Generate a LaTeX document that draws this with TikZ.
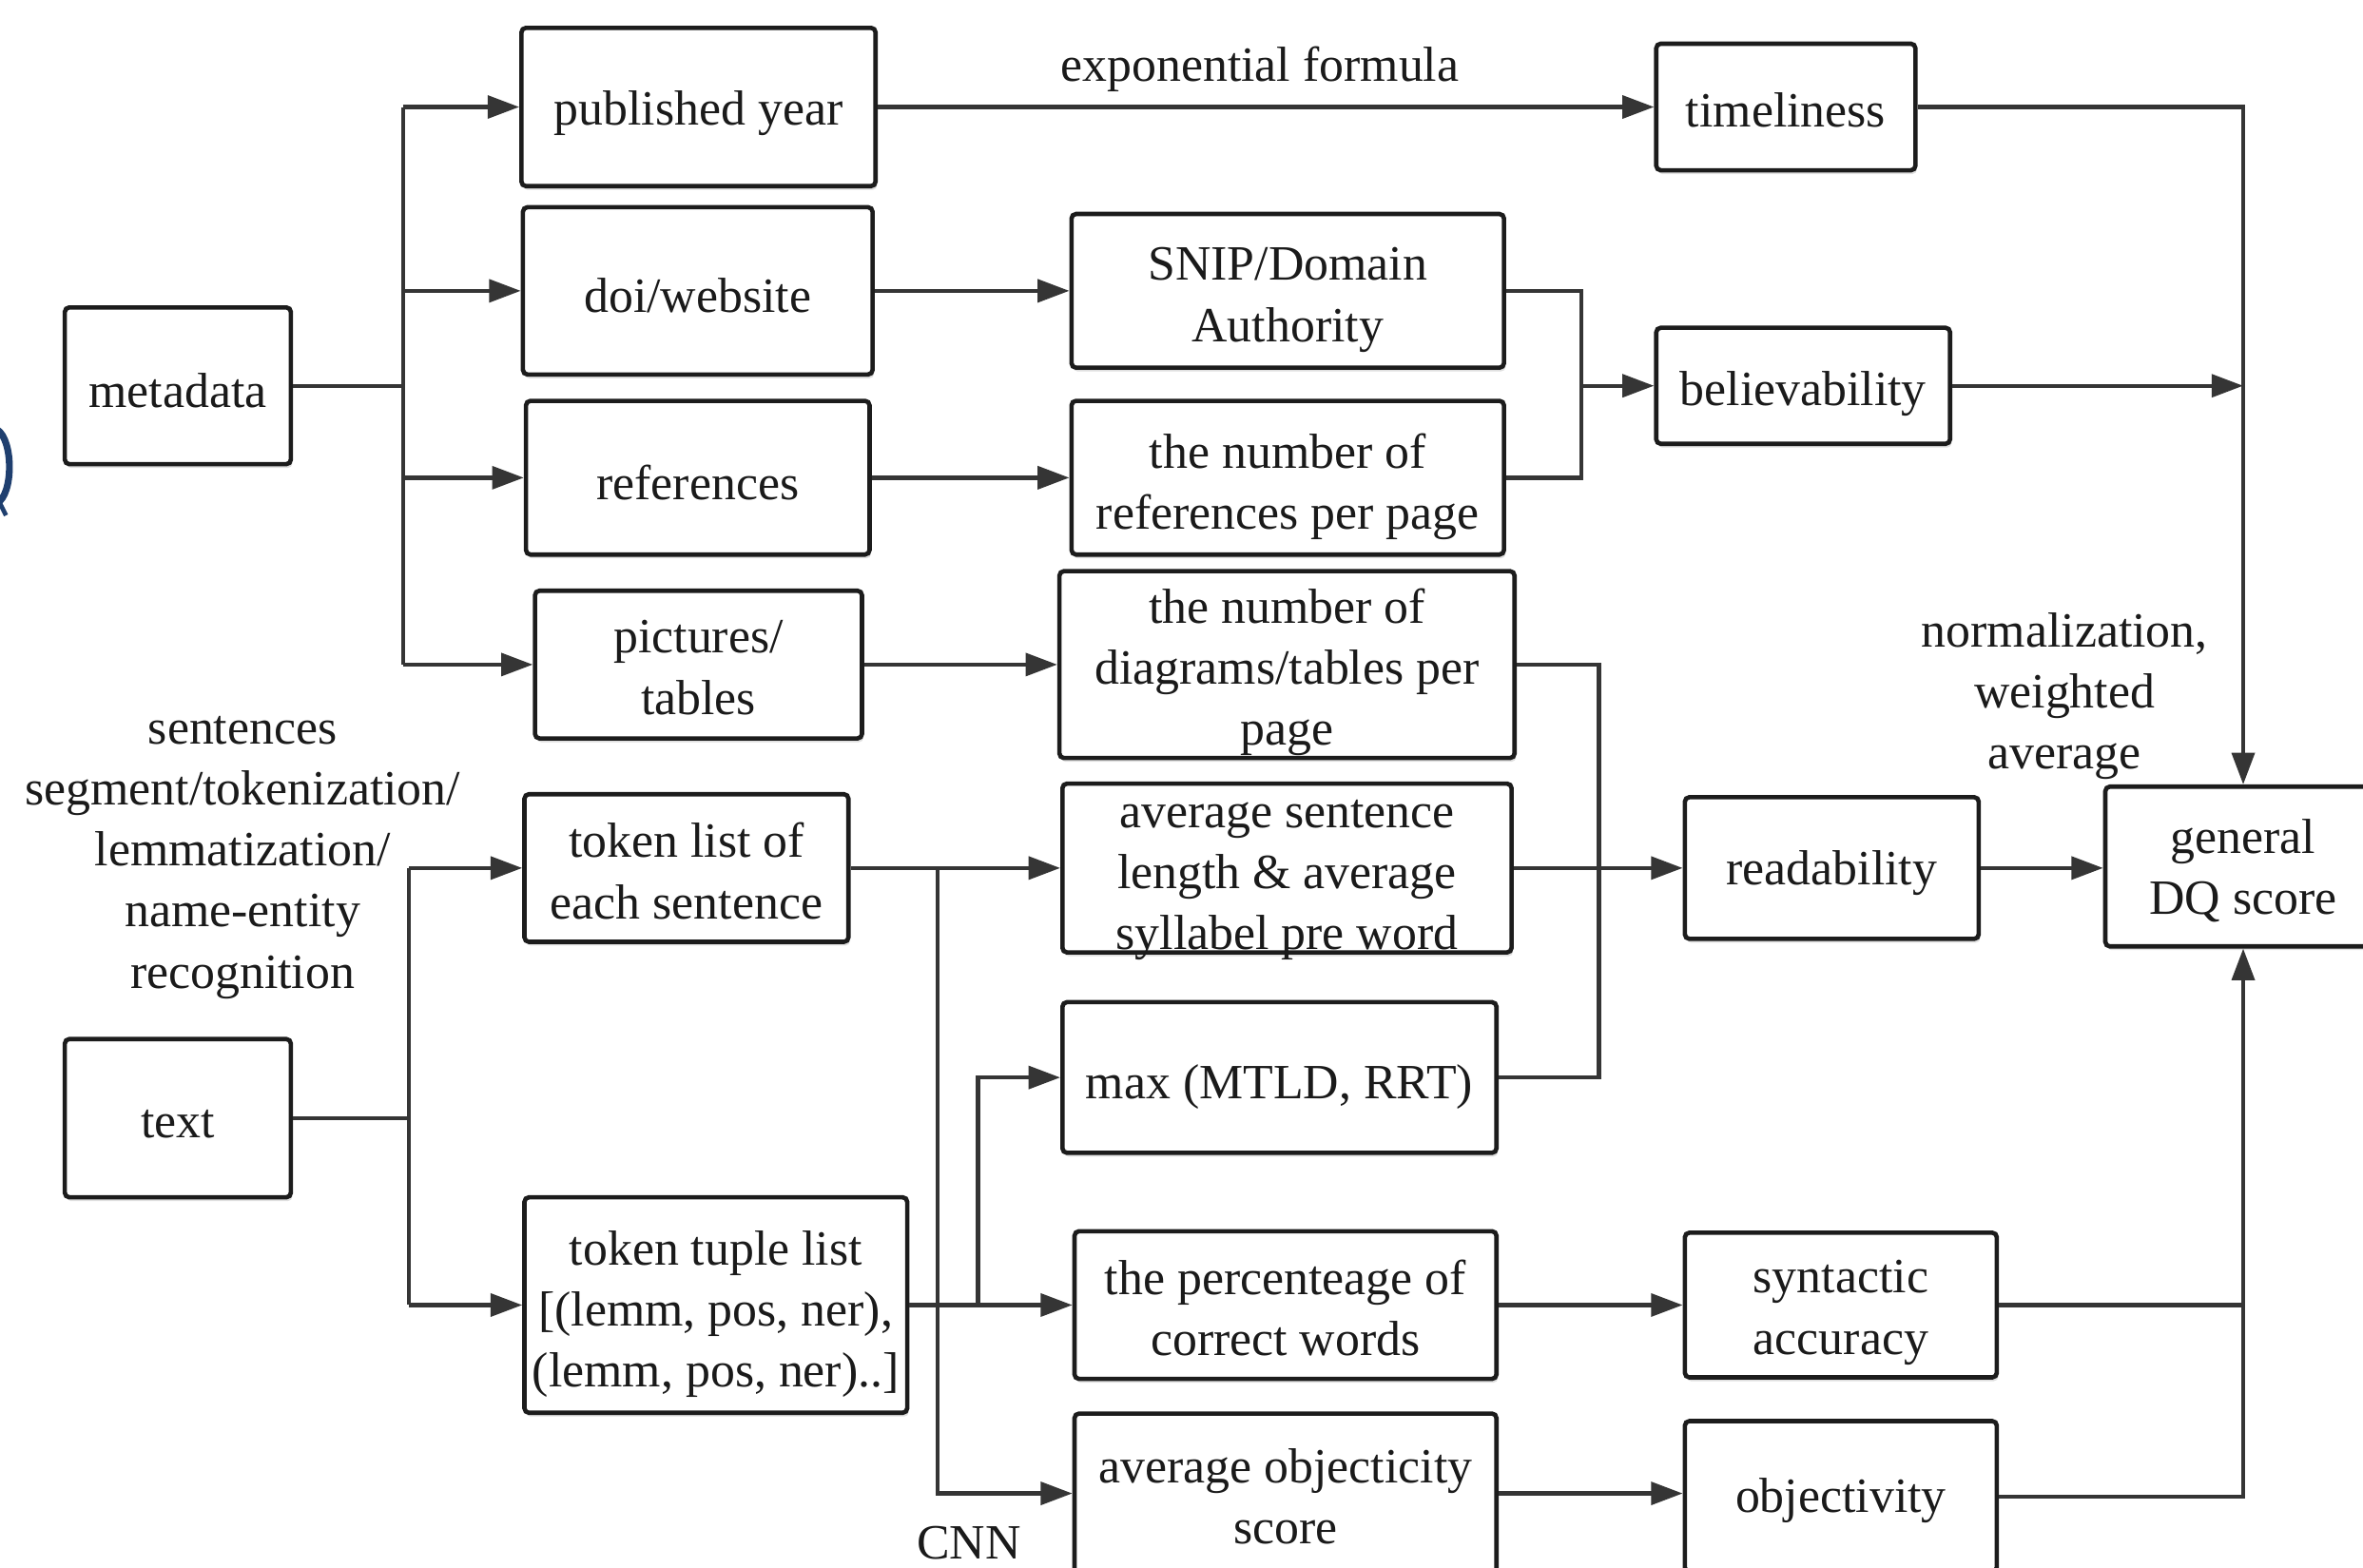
\documentclass[tikz,border=0pt]{standalone}
\usepackage{fontspec}
\setmainfont{Liberation Serif}
\usetikzlibrary{arrows.meta,shadows}
\newcommand{\dqfont}{\fontsize{32.7}{40.5}\selectfont}
\definecolor{linec}{HTML}{353535}
\definecolor{boxc}{HTML}{1C1C1C}
\definecolor{txtc}{HTML}{1A1A1A}
\definecolor{blueart}{HTML}{1F3F6F}
% \dqbox[text shift]{name}{x}{y}{width}{height}{text}
\newcommand{\dqbox}[7][4]{%
  \node[box, minimum width=#5pt, minimum height=#6pt] (#2) at (#3,#4) {};
  \node[lbl] (#2-t) at ([yshift=-#1pt]#2.center) {#7};}
\begin{document}
\begin{tikzpicture}[x=1pt,y=-1pt,
  box/.style={draw=boxc, line width=2.9pt, rounded corners=3pt, inner sep=0pt,
    fill=white,
    drop shadow={shadow xshift=1pt, shadow yshift=-2.5pt, opacity=0.25, fill=gray}},
  lbl/.style={font=\dqfont, text=txtc, align=center, inner sep=0pt},
  conn/.style={draw=linec, line width=2.7pt},
  arr/.style={conn, -{Triangle[length=21pt,width=15pt]}}]
\useasboundingbox (0,0) rectangle (1568,1040);
\clip (0,0) rectangle (1568,1040);
\fill[white] (0,0) rectangle (1568,1040);

% left-edge fragment
\draw[blueart, line width=4.5pt] (-2,285) .. controls (9,292) and (9,328) .. (-2,334);
\draw[blueart, line width=3pt] (-1,332) -- (4,342);

% nodes
\dqbox[3]{meta}{118}{256}{150}{104}{metadata}
\dqbox[4]{text}{118}{742}{150}{105}{text}
\dqbox[4]{pub}{463.5}{71}{235}{105}{published year}
\dqbox[3]{doi}{463}{193}{232}{111}{doi/website}
\dqbox[3]{refs}{463}{317}{228}{102}{references}
\dqbox[2]{pics}{463.5}{441}{217}{98}{pictures/\\tables}
\dqbox[2]{tok}{455.5}{576}{215}{98}{token list of\\each sentence}
\dqbox[6]{tup}{475}{866}{254}{143}{token tuple list\\{}[(lemm, pos, ner),\\(lemm, pos, ner)..]}

\dqbox[6]{snip}{854.5}{193}{287}{102}{SNIP/Domain\\Authority}
\dqbox[6]{nref}{854.5}{317}{287}{102}{the number of\\references per page}
\dqbox[5]{ndiag}{854}{441}{302}{124}{the number of\\diagrams/tables per\\page}
\dqbox[8]{avgs}{854}{576}{298}{112}{average sentence\\length \& average\\syllabel pre word}
\dqbox[6]{maxm}{849}{715}{288}{100}{max (MTLD, RRT)}
\dqbox[2]{perc}{853}{866}{280}{98}{the percenteage of\\correct words}
\dqbox[2]{avgo}{853}{991}{280}{106}{average objecticity\\score}

\dqbox[2]{time}{1185}{71}{172}{84}{timeliness}
\dqbox[5]{bel}{1196.5}{256}{195}{77}{believability}
\dqbox[3]{read}{1215.5}{576}{195}{94}{readability}
\dqbox[5]{synt}{1221.5}{866}{207}{96}{syntactic\\accuracy}
\dqbox[3]{obj}{1221.5}{993}{207}{100}{objectivity}
\dqbox[3]{dq}{1488.5}{575}{183}{106}{general\\DQ score}

% labels
\node[lbl] (lexp) at (836,46) {exponential formula};
\node[lbl] (lnlp) at (161,569) {sentences\\segment/tokenization/\\lemmatization/\\name-entity\\recognition};
\node[lbl] (lnorm) at (1370,462) {normalization,\\weighted\\average};
\node[lbl] (lcnn) at (643,1024) {CNN};

% metadata fan-out
\draw[conn] (meta.east) -- ++(73,0) coordinate (mj);
\draw[conn] (mj |- pub.west) -- (mj |- pics.west);
\draw[arr] (mj |- pub.west) -- (pub.west);
\draw[arr] (mj |- doi.west) -- (doi.west);
\draw[arr] (mj |- refs.west) -- (refs.west);
\draw[arr] (mj |- pics.west) -- (pics.west);

% text fan-out
\draw[conn] (text.east) -- ++(77,0) coordinate (tj);
\draw[conn] (tj |- tok.west) -- (tj |- tup.west);
\draw[arr] (tj |- tok.west) -- (tok.west);
\draw[arr] (tj |- tup.west) -- (tup.west);

% second column
\draw[arr] (pub.east) -- (pub.east -| time.west);
\draw[arr] (doi.east) -- (doi.east -| snip.west);
\draw[arr] (refs.east) -- (refs.east -| nref.west);
\draw[arr] (pics.east) -- (pics.east -| ndiag.west);
\draw[arr] (tok.east) -- (tok.east -| avgs.west);
\draw[arr] (tup.east) -- (tup.east -| perc.west);

% CNN branch
\coordinate (cj) at (622,576);
\draw[arr] (cj) |- (avgo.west);
% max branch
\coordinate (xj) at (649,866);
\draw[arr] (xj) |- (maxm.west);

% believability merge
\draw[conn] (snip.east) -- ++(50,0) coordinate (bj) -- (bj |- nref.east) -- (nref.east);
\draw[arr] (bj |- bel.west) -- (bel.west);

% readability merge
\draw[conn] (ndiag.east) -- (1061,441) -- (1061,715) -- (maxm.east);
\draw[arr] (avgs.east) -- (avgs.east -| read.west);

% to syntactic / objectivity
\draw[arr] (perc.east) -- (perc.east -| synt.west);
\draw[arr] (avgo.east) -- (avgo.east -| obj.west);

% to general DQ score
\draw[arr] (time.east) -| (dq.north);
\draw[arr] (bel.east) -- (bel.east -| dq.north);
\draw[arr] (read.east) -- (read.east -| dq.west);
\draw[conn] (synt.east) -- (synt.east -| dq.south);
\draw[arr] (obj.east) -| (dq.south);
\end{tikzpicture}
\end{document}
